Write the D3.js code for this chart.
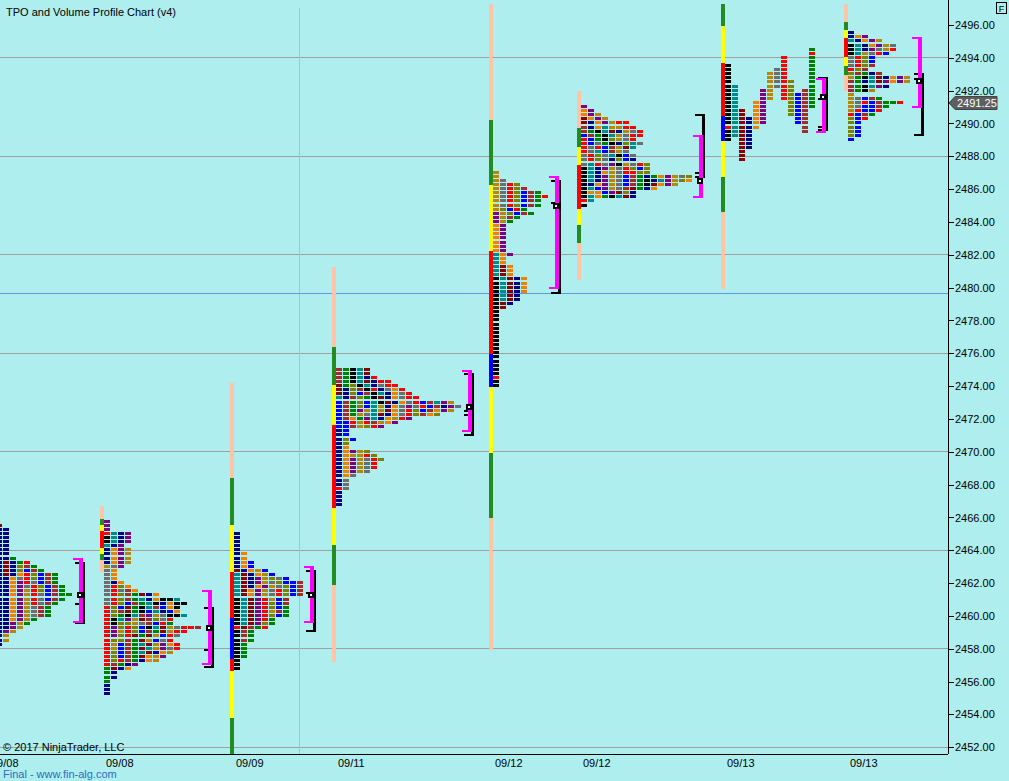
<!DOCTYPE html>
<html><head><meta charset="utf-8">
<script src="https://cdn.jsdelivr.net/npm/d3@7"></script>
<style>
html,body{margin:0;padding:0;background:#afeeee;overflow:hidden;}
svg{display:block;font-family:"Liberation Sans",Arial,sans-serif;}
</style></head><body>
<svg id="c" width="1009" height="781"></svg>
<script>
// ---------------- data ----------------
const priceTicks = d3.range(2452, 2497, 2);
const gridPrices = [2494, 2488, 2482, 2476, 2470, 2464, 2458, 2452];
const refPrice = 2479.65;
const lastPrice = 2491.25;
const dateLabels = ["09/08", "09/08", "09/09", "09/11", "09/12", "09/12", "09/13", "09/13"];
// session start bar and value-area bracket bar (bar units)
const sessionBar = [-15, 100, 230, 332, 489, 577, 721, 844];
const vaBar = [79, 208, 310, 468, 555, 699, 822, 918];
const weekBreakBar = 299;

const tpoColor = {n:"#000080", o:"#f08000", d:"#8b0000", l:"#808000", t:"#008b8b", p:"#800080",
  g:"#b8860b", y:"#6e6e6e", r:"#ff0000", b:"#0000ff", w:"#a52a2a", e:"#008000", k:"#000000"};
const bandColor = {s:"#ffc4a8", f:"#228b22", y:"#ffff00", r:"#ff0000", b:"#0000ff"};

// TPO rows, top price first, one letter per period cell
const p1Top = 2465.5;
const p1Rows = ["nd","nnn","nnn","nnn","nnn","nnn","nnn","nnn","nnne","nndner","nndnlwe","nndnlbwe",
  "nndnorlbwe","nnnoyrlbwe","nnnoprybwe","nnnopyrlbwe","nnnopgrlbwe","nnnopgrybwee","nnnopgrybwe",
  "nnnopgrywe","nnnopgywe","nnnopgywe","nnnopgywe","nnnopge","nnnpge","nnnpg","nnpg","nng","nng","nn"];
const p2Top = 2465.75;
const p2Rows = ["p","p","p","rtnp","ktnp","ktnp","tnp","nopg","nopg","nopg","nopg","gyp","yo","yo","yo",
  "yno","yrlo","yrywo","yrlwedno","yrlwetnokkt","yrlbwetknokk","rlbdektwbok","rlwdekbtnbo",
  "rlektwpgykkt","rktpgdwlyr","rkllgywbre","rplrlbktdgyrrw","rpgrlbwedgrr","rplrdedgbry","rllwedgbyr",
  "rgbwetdgpor","rgbwedtgpyr","rlbwetdnog","rlbwedogp","rlrwenog","rwenp","edno","en","en","e","n","n","n"];
const p3Top = 2465.0;
const p3Rows = ["n","n","n","n","n","no","no","nob","nob","dnogb","tdnogb","tdnpglyb","tdnpgylbbw",
  "tdnopgylbw","tdopgyrlbw","tdopgyrlbw","ktdprgbw","ktdprlbw","ktdprlbe","ktdprgwe","ktdprlbe",
  "ktdpre","ktdple","rdwer","kwe","kwe","kwe","ke","ke","ke","ke","k","k","k"];
const p4Top = 2475.0;
const p4Rows = ["wektd","wektd","wektnr","wektdnrr","delktnyrr","dnlwkrnyor","dnlbwktnoyr","tnwlekdnoyrr",
  "bwelbtkdnoyrbwtpg","bwelbtgnoypyrbwnpy","bwepgtgdoyrlbwopg","bwegytdnoyrlwol","bwoeptnogrp",
  "bbrgrwgop","bbwglrp","nb","nb","nlb","nl","no","nopgl","noggrl","nopgyrl","nopgyr","nopgyr",
  "nopgy","noy","ny","ny","ry","n","n","n","n"];
const p5Top = 2487.0;
const p5Rows = ["g","g","gy","gyrl","gyrlw","gyrlbwe","gyrlbwer","gyrlbwe","gyrlbwe","glbre","pglbwe",
  "pgwe","pge","op","op","op","op","op","op","op","top","to","to","tdo","tdo","tdo","ktdno","ktdno",
  "ktdno","ktdno","ktdn","ktdn","kdn","kd","k","k","k","k","k","k","k","k","k","k","k","k","k","k",
  "k","k","r","k","k"];
const p6Top = 2491.0;
const p6Rows = ["p","op","opg","dopg","dnopgrr","wnotggrr","wektdngyr","bwektgyrr","rbeklgyr","rbyeknlty",
  "ryrbwgdt","rytbwgy","yrlytkby","yrlynlbn","ytrypkgyrl","ktnpgyrlbl","ktnogyrrll","ktnpgybweneopgyl",
  "ktnpgybwekntpglo","knopgybwekdopg","ktbpgywdeno","koobpdln","ktoektdn","rt","k"];
// split profile: one column per period [colour, high, low, open-mark]
const p7Periods = [["k",2493.5,2489.0,2489.75],["t",2492.25,2489.25],["d",2490.75,2487.75],
  ["n",2490.25,2488.5],["o",2491.25,2489.75],["p",2492.0,2490.0],["g",2493.0,2491.5],
  ["y",2493.25,2492.25],["r",2494.0,2491.5],["l",2492.5,2490.5],["b",2491.75,2490.0],
  ["w",2492.0,2489.5],["e",2494.5,2491.0,2494.25]];
const p8Top = 2495.5;
const p8Rows = ["n","nop","tnopg","ktnopgy","ktnpygr","ktgyrb","yrlb","yrlb","yrlw","rlw","lwenw",
  "gektdnopg","wentdpopg","wektpn","wekg","g","gybwe","gyrbweer","gybbwe","grbbr","rbwe","lbr",
  "lb","lb","lb","lb","b"];

// session band bars [high, low, colour]
const bands = [
  [],
  [[2466.67,2465.92,"s"],[2465.92,2465.55,"f"],[2465.55,2465.19,"y"],[2465.19,2464.13,"r"],[2464.13,2463.78,"y"],[2463.78,2463.42,"f"],[2463.42,2462.7,"s"]],
  [[2474.22,2468.42,"s"],[2468.42,2465.55,"f"],[2465.55,2462.69,"y"],[2462.69,2459.88,"r"],[2459.88,2457.38,"b"],[2457.38,2456.65,"r"],[2456.65,2453.78,"y"],[2453.78,2451.6,"f"]],
  [[2481.24,2476.41,"s"],[2476.41,2474.04,"f"],[2474.04,2471.66,"y"],[2471.66,2466.6,"r"],[2466.6,2464.33,"y"],[2464.33,2461.89,"f"],[2461.89,2457.2,"s"]],
  [[2497.28,2490.2,"s"],[2490.2,2486.24,"f"],[2486.24,2482.21,"y"],[2482.21,2475.93,"r"],[2475.93,2473.93,"b"],[2473.93,2469.95,"y"],[2469.95,2465.98,"f"],[2465.98,2457.93,"s"]],
  [[2491.97,2489.72,"s"],[2489.72,2488.56,"f"],[2488.56,2487.46,"y"],[2487.46,2484.77,"r"],[2484.77,2483.8,"y"],[2483.8,2482.7,"f"],[2482.7,2480.44,"s"]],
  [[2497.28,2495.96,"f"],[2495.96,2493.68,"y"],[2493.68,2490.47,"r"],[2490.47,2488.94,"b"],[2488.94,2486.73,"y"],[2486.73,2484.59,"f"],[2484.59,2479.89,"s"]],
  [[2497.28,2496.18,"s"],[2496.18,2495.7,"f"],[2495.7,2495.2,"y"],[2495.2,2494.05,"r"],[2494.05,2493.5,"y"],[2493.5,2492.95,"f"],[2492.95,2491.97,"s"]]
];
const valueArea = [[2463.5,2459.65],[2461.5,2457.1],[2463.0,2459.65],[2474.95,2471.25],[2486.75,2480.0],[2489.25,2485.5],[2492.7,2489.5],[2495.2,2491.0]];
const volumeArea = [[2463.25,2459.6],[2460.5,2456.9],[2462.75,2459.1],[2474.75,2471.0],[2486.5,2479.7],[2490.5,2486.75],[2492.75,2489.6],[2493.0,2489.3]];
const pocPrice = [2461.25,2459.25,2461.25,2472.75,2485.0,2486.5,2491.6,2492.6];
const extraMarks = [[2460.75],[2457.9],[2461.4],[2472.5,2472.25],[2485.15],[2487.0],[2491.5,2489.8],[2492.7]];

// ---------------- drawing ----------------
const svg = d3.select("#c");
const y = d3.scaleLinear().domain([2496, 2452]).range([25, 747.3]);
const x = d3.scaleLinear().domain([-15, 948]).range([-15, 948]);
const plotRight = x(948), plotBottom = 754;

svg.append("rect").attr("width",1009).attr("height",781).attr("fill","#afeeee");

// grid
const grid = svg.append("g").attr("shape-rendering","crispEdges");
grid.selectAll("line.h").data(gridPrices).join("line")
  .attr("x1",0).attr("x2",plotRight).attr("y1",d=>y(d)).attr("y2",d=>y(d))
  .attr("stroke","#a0a0a0");
grid.append("line").attr("x1",x(weekBreakBar)).attr("x2",x(weekBreakBar)).attr("y1",8).attr("y2",plotBottom)
  .attr("stroke","#a8c4c6");
grid.append("line").attr("x1",0).attr("x2",plotRight).attr("y1",y(refPrice)).attr("y2",y(refPrice))
  .attr("stroke","#6495ed");

// profiles
const profiles = [
  {top:p1Top, rows:p1Rows},{top:p2Top, rows:p2Rows},{top:p3Top, rows:p3Rows},{top:p4Top, rows:p4Rows},
  {top:p5Top, rows:p5Rows},{top:p6Top, rows:p6Rows},{split:p7Periods},{top:p8Top, rows:p8Rows}
];
const layer = svg.append("g").attr("shape-rendering","crispEdges");
profiles.forEach((pr, i) => {
  const bx0 = x(sessionBar[i]);
  // band bar
  layer.append("g").selectAll("rect").data(bands[i]).join("rect")
    .attr("x", bx0).attr("width", 4)
    .attr("y", d => y(d[0])).attr("height", d => y(d[1]) - y(d[0]))
    .attr("fill", d => bandColor[d[2]]);
  const cells = [];
  if (pr.split) {
    pr.split.forEach((per, c) => {
      for (let p = per[1]; p >= per[2] - 1e-9; p -= 0.25) {
        cells.push({c, price:p, ch: (per[3] !== undefined && Math.abs(per[3]-p) < 1e-6) ? "r" : per[0]});
      }
    });
  } else {
    pr.rows.forEach((row, k) => {
      const price = pr.top - k * 0.25;
      [...row].forEach((ch, c) => { if (ch !== " ") cells.push({c, price, ch}); });
    });
  }
  layer.append("g").selectAll("rect").data(cells).join("rect")
    .attr("x", d => bx0 + 4 + d.c * 7).attr("width", 6)
    .attr("y", d => y(d.price) - 2).attr("height", 3)
    .attr("fill", d => tpoColor[d.ch]);

  // brackets
  const bx = x(vaBar[i]);
  const g = layer.append("g");
  const vol = volumeArea[i], va = valueArea[i];
  g.append("rect").attr("x", bx + 3).attr("width", 3)
    .attr("y", y(vol[0]) - 1).attr("height", y(vol[1]) - y(vol[0]) + 2).attr("fill", "#000");
  g.selectAll("rect.vt").data(vol).join("rect").attr("class","vt")
    .attr("x", bx - 4).attr("width", 10).attr("y", d => y(d) - 1).attr("height", 2).attr("fill", "#000");
  g.selectAll("rect.mk").data(extraMarks[i]).join("rect").attr("class","mk")
    .attr("x", bx - 4).attr("width", 5).attr("y", d => y(d) - 1).attr("height", 2).attr("fill", "#000");
  g.append("rect").attr("x", bx).attr("width", 4)
    .attr("y", y(va[0]) - 1).attr("height", y(va[1]) - y(va[0]) + 2).attr("fill", "#ff00ff");
  g.selectAll("rect.mt").data(va).join("rect").attr("class","mt")
    .attr("x", bx - 6).attr("width", 10).attr("y", d => y(d) - 1).attr("height", 2).attr("fill", "#ff00ff");
  g.append("rect").attr("x", bx - 2).attr("y", y(pocPrice[i]) - 3).attr("width", 6).attr("height", 6).attr("fill", "#000");
  g.append("rect").attr("x", bx).attr("y", y(pocPrice[i]) - 1).attr("width", 2).attr("height", 2).attr("fill", "#fff");
});

// axes
const axisG = svg.append("g").attr("transform", `translate(${plotRight},0)`)
  .call(d3.axisRight(y).tickValues(priceTicks).tickFormat(d3.format(".2f")).tickSize(6).tickPadding(1));
axisG.select(".domain").remove();
axisG.selectAll("line").attr("stroke","#000").attr("shape-rendering","crispEdges");
axisG.selectAll("text").attr("fill","#000").attr("font-size",11).attr("font-family","Liberation Sans, Arial, sans-serif");
svg.append("line").attr("x1",plotRight+0.5).attr("x2",plotRight+0.5).attr("y1",0).attr("y2",plotBottom).attr("stroke","#000");
svg.append("line").attr("x1",0).attr("x2",plotRight).attr("y1",plotBottom+0.5).attr("y2",plotBottom+0.5).attr("stroke","#000");

// last price tag
const ly = y(lastPrice);
svg.append("path")
  .attr("d", `M${plotRight+1},${ly} L${plotRight+7},${ly-6.5} L${plotRight+49},${ly-6.5} L${plotRight+49},${ly+6.5} L${plotRight+7},${ly+6.5} Z`)
  .attr("fill","#5e5e5e").attr("stroke","#404040");
svg.append("text").attr("x", plotRight + 9).attr("y", ly + 4).attr("fill","#fff").attr("font-size",11).text(lastPrice.toFixed(2));

// date labels
svg.append("g").selectAll("text").data(dateLabels).join("text")
  .attr("x", (d, i) => x(sessionBar[i]) + 6).attr("y", 767).attr("font-size", 11).attr("fill","#000").text(d => d);

// texts
svg.append("text").attr("x",6).attr("y",16).attr("font-size",11).attr("fill","#000").text("TPO and Volume Profile Chart (v4)");
svg.append("text").attr("x",3).attr("y",751).attr("font-size",11).attr("fill","#000").text("© 2017 NinjaTrader, LLC");
svg.append("text").attr("x",3).attr("y",778).attr("font-size",11).attr("fill","#2b6cc4").text("Final - www.fin-alg.com");
svg.append("rect").attr("x",996.5).attr("y",2.5).attr("width",10).attr("height",11).attr("fill","none").attr("stroke","#000");
svg.append("text").attr("x",1001.5).attr("y",11.5).attr("font-size",9).attr("text-anchor","middle").attr("fill","#000").text("F");
</script>
</body></html>
